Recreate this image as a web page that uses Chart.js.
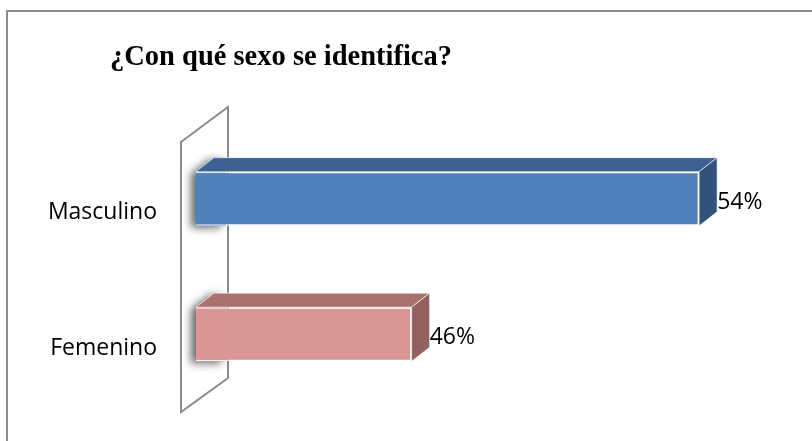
<!DOCTYPE html>
<html>
<head>
<meta charset="utf-8">
<script src="https://cdn.jsdelivr.net/npm/chart.js@4"></script>
<style>
  html, body { margin: 0; background: #fff; }
  canvas { display: block; }
</style>
</head>
<body>
<canvas id="chart" width="812" height="441"></canvas>
<script>
// data
const categories = ['Masculino', 'Femenino'];
const values = [54, 46];
const valueLabels = ['54%', '46%'];
const titleText = '¿Con qué sexo se identifica?';

// colours: front / top / side faces
const frontColors = ['#4F81BD', '#D99694'];
const topColors = ['#3D6291', '#A8716F'];
const sideColors = ['#30537D', '#93615E'];

const DEPTH_X = 18, DEPTH_Y = -14;

const frame = {
  id: 'frame',
  beforeDraw(chart) {
    const ctx = chart.ctx;
    ctx.save();
    ctx.fillStyle = '#fff';
    ctx.fillRect(0, 0, chart.width, chart.height);
    ctx.strokeStyle = '#8c8c8c';
    ctx.lineWidth = 2;
    ctx.strokeRect(7, 11, chart.width + 20, chart.height + 20);
    ctx.fillStyle = '#000';
    ctx.font = 'bold 28.5px "Liberation Serif"';
    ctx.textBaseline = 'alphabetic';
    ctx.fillText(titleText, 110, 65);
    ctx.restore();
  },
  beforeDatasetsDraw(chart) {
    const ctx = chart.ctx;
    const a = chart.chartArea;
    ctx.save();
    // side wall
    ctx.beginPath();
    ctx.moveTo(a.left - 15, a.top + 11);
    ctx.lineTo(a.left + 32, a.top - 24);
    ctx.lineTo(a.left + 32, a.bottom - 24);
    ctx.lineTo(a.left - 15, a.bottom + 10);
    ctx.closePath();
    ctx.strokeStyle = '#8c8c8c';
    ctx.lineWidth = 2;
    ctx.stroke();
    // soft shadows to the left of bars
    chart.getDatasetMeta(0).data.forEach((bar, i) => {
      const t = bar.y - bar.height / 2, b = bar.y + bar.height / 2;
      const L = Math.max(bar.base, a.left);
      ctx.save();
      ctx.shadowColor = 'rgba(0,0,0,0.6)';
      ctx.shadowBlur = 8;
      ctx.shadowOffsetX = -5;
      ctx.shadowOffsetY = 2;
      ctx.fillStyle = frontColors[i];
      ctx.beginPath();
      ctx.moveTo(L, b);
      ctx.lineTo(L, t);
      ctx.lineTo(L + DEPTH_X, t + DEPTH_Y);
      ctx.lineTo(L + 30, t + DEPTH_Y);
      ctx.lineTo(L + 30, b);
      ctx.closePath();
      ctx.fill();
      ctx.restore();
    });
    ctx.restore();
  },
  afterDatasetsDraw(chart) {
    const ctx = chart.ctx;
    const a = chart.chartArea;
    ctx.save();
    chart.getDatasetMeta(0).data.forEach((bar, i) => {
      const t = bar.y - bar.height / 2, b = bar.y + bar.height / 2;
      const L = Math.max(bar.base, a.left), R = bar.x;
      ctx.lineWidth = 1;
      ctx.strokeStyle = 'rgba(255,255,255,0.6)';
      // top face
      ctx.beginPath();
      ctx.moveTo(L, t);
      ctx.lineTo(L + DEPTH_X, t + DEPTH_Y);
      ctx.lineTo(R + DEPTH_X, t + DEPTH_Y);
      ctx.lineTo(R, t);
      ctx.closePath();
      ctx.fillStyle = topColors[i];
      ctx.fill();
      ctx.stroke();
      // side face
      ctx.beginPath();
      ctx.moveTo(R, t);
      ctx.lineTo(R + DEPTH_X, t + DEPTH_Y);
      ctx.lineTo(R + DEPTH_X, b + DEPTH_Y);
      ctx.lineTo(R, b);
      ctx.closePath();
      ctx.fillStyle = sideColors[i];
      ctx.fill();
      ctx.stroke();
      // value label
      ctx.fillStyle = '#000';
      ctx.font = '23px "Open Sans"';
      ctx.textAlign = 'left';
      ctx.textBaseline = 'alphabetic';
      ctx.fillText(valueLabels[i], R + DEPTH_X, bar.y + 10);
    });
    ctx.restore();
  }
};

new Chart(document.getElementById('chart'), {
  type: 'bar',
  data: {
    labels: categories,
    datasets: [{
      data: values,
      backgroundColor: frontColors,
      borderColor: 'rgba(255,255,255,0.85)',
      borderWidth: 1.5,
      barPercentage: 0.4,
      categoryPercentage: 1
    }]
  },
  options: {
    indexAxis: 'y',
    responsive: false,
    animation: false,
    layout: { padding: { top: 131, bottom: 39, left: 0, right: 41 } },
    plugins: { legend: { display: false }, tooltip: { enabled: false } },
    scales: {
      x: { display: false, min: 40, max: 56 },
      y: {
        grid: { display: false, drawTicks: false },
        border: { display: false },
        ticks: {
          color: '#000',
          font: { family: 'Open Sans', size: 23 },
          padding: 39,
          labelOffset: 14
        },
        afterFit(scale) {
          scale.width = 196;
          scale.paddingTop = 0;
          scale.paddingBottom = 0;
        }
      }
    }
  },
  plugins: [frame]
});
</script>
</body>
</html>
